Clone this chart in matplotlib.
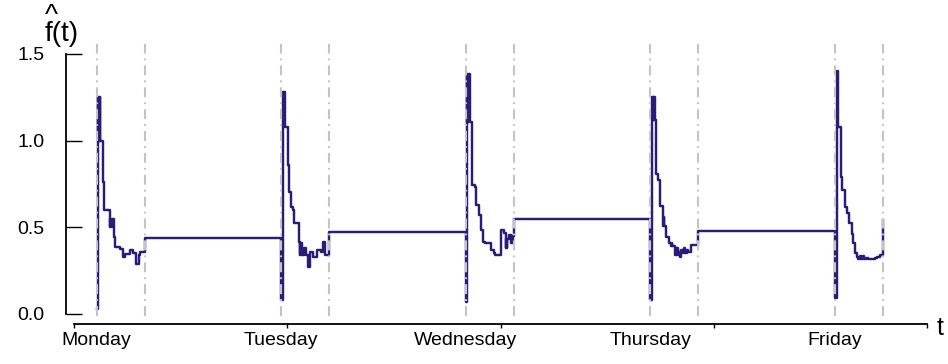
import matplotlib
matplotlib.use("Agg")
import matplotlib.pyplot as plt
import numpy as np

plt.rcParams['font.family'] = ['Liberation Sans', 'DejaVu Sans']

# ---- data (minutes after the open, estimated f-hat value) ----
days = ["Monday", "Tuesday", "Wednesday", "Thursday", "Friday"]
open_hour = 9.5
session_min = 375

mon_min = [0, 10, 13, 15, 17, 19, 21, 23, 29, 47, 60, 100, 103, 106, 109, 112, 115, 118,
           133, 146, 185, 203, 224, 263, 282, 303, 310, 329, 341]
mon_val = [0.03, 1.25, 1.0, 1.25, 1.0, 1.25, 1.0, 1.25, 1.0, 0.76, 0.60, 0.55, 0.50, 0.55, 0.50,
           0.55, 0.50, 0.55, 0.445, 0.385, 0.375, 0.33, 0.345, 0.37, 0.35, 0.33, 0.29, 0.34, 0.36]

tue_min = [0, 10, 14, 17, 20, 24, 28, 49, 63, 76, 88, 102, 136, 147, 150, 153, 156, 160,
           175, 194, 212, 225, 251, 277, 311, 329, 345]
tue_val = [0.08, 1.28, 1.10, 1.28, 1.10, 1.28, 1.08, 0.86, 0.705, 0.62, 0.60, 0.525, 0.417,
           0.34, 0.41, 0.34, 0.41, 0.34, 0.38, 0.34, 0.273, 0.36, 0.33, 0.37, 0.36, 0.417, 0.34]

wed_min = [0, 8, 12, 15, 19, 23, 36, 47, 70, 83, 101, 122, 135, 153, 195, 218, 226, 273, 296,
           312, 315, 318, 322, 336, 355, 360, 364, 368]
wed_val = [0.07, 1.385, 1.11, 1.385, 1.11, 1.385, 1.11, 0.744, 0.735, 0.63, 0.57, 0.485, 0.417,
           0.41, 0.37, 0.35, 0.34, 0.485, 0.47, 0.38, 0.43, 0.38, 0.43, 0.456, 0.41, 0.45, 0.41, 0.45]

thu_min = [0, 16, 19, 22, 25, 28, 39, 41, 60, 73, 99, 102, 105, 108, 125, 146, 164, 167, 170,
           190, 210, 218, 226, 234, 242, 252, 262, 272, 282, 296, 320]
thu_val = [0.08, 1.254, 1.12, 1.254, 1.12, 1.254, 1.12, 0.81, 0.773, 0.623, 0.56, 0.51, 0.56,
           0.51, 0.446, 0.41, 0.39, 0.41, 0.39, 0.34, 0.38, 0.34, 0.36, 0.33, 0.37, 0.35, 0.38,
           0.35, 0.37, 0.36, 0.40]

fri_min = [0, 13, 16, 19, 22, 25, 26, 44, 57, 78, 96, 112, 130, 143, 156, 169, 182, 195, 205,
           215, 225, 240, 255, 270, 290, 310, 330, 350]
fri_val = [0.09, 1.40, 1.08, 1.40, 1.08, 1.40, 1.08, 0.79, 0.716, 0.62, 0.58, 0.527, 0.46, 0.41,
           0.354, 0.33, 0.32, 0.335, 0.32, 0.335, 0.315, 0.325, 0.315, 0.32, 0.315, 0.325, 0.33, 0.34]

# value held from each close until the next open (last entry: Friday close)
close_val = [0.44, 0.475, 0.546, 0.48, 0.54]

day_min = [mon_min, tue_min, wed_min, thu_min, fri_min]
day_val = [mon_val, tue_val, wed_val, thu_val, fri_val]

# ---- build step series (time in hours from Monday 00:00) ----
t_all, v_all = [], []
opens, closes = [], []
for d in range(5):
    t_open = 24 * d + open_hour
    t_close = t_open + session_min / 60
    opens.append(t_open)
    closes.append(t_close)
    t_all += [t_open + m / 60 for m in day_min[d]]
    v_all += day_val[d]
    t_all.append(t_close)
    v_all.append(close_val[d])

fig = plt.figure(figsize=(9.48, 3.64), dpi=100)
ax = fig.add_axes([65.7 / 948, 50 / 364, (927 - 65.7) / 948, 260 / 364])

ax.plot(t_all, v_all, drawstyle='steps-post', color='#2c1c78', lw=1.75, zorder=2)
for t in opens + closes:
    ax.plot([t, t], [-0.012, 1.56], color='#c4c4c4', lw=1.5,
            linestyle=(0, (4.8, 2.4, 0.9, 2.4)), clip_on=False, zorder=3)

x_left, x_right, x_start = 5.47, 117.47, 6.55
ax.set_xlim(x_left, x_right)
ax.set_ylim(0, 1.5)

for s in ['top', 'right']:
    ax.spines[s].set_visible(False)
ax.spines['left'].set_bounds(0, 1.5)
ax.spines['left'].set_linewidth(1.3)
ax.spines['bottom'].set_position(('outward', 7.2))
ax.spines['bottom'].set_bounds(x_start, x_right)
ax.spines['bottom'].set_linewidth(1.3)

ax.set_yticks([0, 0.5, 1.0, 1.5])
ax.set_yticklabels(['0.0', '0.5', '1.0', '1.5'])
ax.tick_params(axis='y', direction='in', length=11.5, width=1.0, pad=15.5, labelsize=14)

ax.set_xticks(np.linspace(x_start, x_right, 5))
ax.set_xticklabels([])
ax.tick_params(axis='x', which='major', direction='out', length=3, width=1.0)
ax.set_xticks(opens, minor=True)
ax.set_xticklabels(days, minor=True)
ax.tick_params(axis='x', which='minor', length=0, pad=6, labelsize=14)

fig.text(45 / 948, 1 - 47 / 364, '^\nf(t)', fontsize=20, ha='left', va='bottom',
         multialignment='left', linespacing=0.62)
fig.text(937 / 948, 1 - 328 / 364, 't', fontsize=18, ha='left', va='center')

fig.savefig('out.png', dpi=100)
